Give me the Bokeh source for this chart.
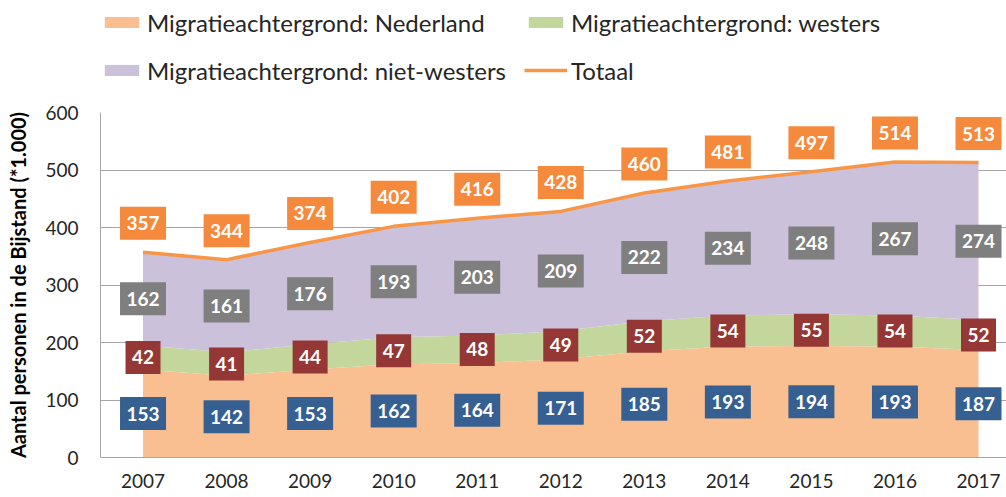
from bokeh.plotting import figure
from bokeh.layouts import column
from bokeh.models import Range1d, FixedTicker, Legend, LegendItem, ColumnDataSource
from bokeh.core.properties import value
from bokeh.embed import file_html
from bokeh.resources import INLINE

# ---- data ----
years = [2007, 2008, 2009, 2010, 2011, 2012, 2013, 2014, 2015, 2016, 2017]
nederland = [153, 142, 153, 162, 164, 171, 185, 193, 194, 193, 187]
westers = [42, 41, 44, 47, 48, 49, 52, 54, 55, 54, 52]
niet_westers = [162, 161, 176, 193, 203, 209, 222, 234, 248, 267, 274]
totaal = [357, 344, 374, 402, 416, 428, 460, 481, 497, 514, 513]
series_names = ["Migratieachtergrond: Nederland", "Migratieachtergrond: westers",
                "Migratieachtergrond: niet-westers", "Totaal"]
y_ticks = [0, 100, 200, 300, 400, 500, 600]
y_title = "Aantal personen in de Bijstand (*1.000)"

# ---- styles ----
C_NED = "#F9BF91"
C_WES = "#C3D69B"
C_NW = "#CCC1DA"
C_TOT = "#F79646"
B_NED = "#376092"
B_WES = "#953735"
B_NW = "#7F7F7F"
B_TOT = "#F68A3C"
GRID = "#A6A6A6"
FONT = "Lato"

# ---- main chart ----
p = figure(width=1006, height=397, output_backend="svg", toolbar_location=None,
           x_range=Range1d(2006.491, 2017.335), y_range=Range1d(0, 600),
           min_border_left=100, min_border_right=0, min_border_top=12,
           min_border_bottom=40)
p.outline_line_color = None
p.background_fill_color = "white"
p.border_fill_color = "white"

src = ColumnDataSource(dict(year=years, ned=nederland, wes=westers, nw=niet_westers,
                            tot=totaal))
p.varea_stack(stackers=["ned", "wes", "nw"], x="year", source=src,
              color=[C_NED, C_WES, C_NW])
p.line(x="year", y="tot", source=src, line_color=C_TOT, line_width=3.5)

# axes
p.xaxis.ticker = FixedTicker(ticks=years)
p.yaxis.ticker = FixedTicker(ticks=y_ticks)
for ax in (p.xaxis[0], p.yaxis[0]):
    ax.major_tick_out = 0
    ax.major_tick_in = 0
    ax.minor_tick_out = 0
    ax.minor_tick_in = 0
    ax.axis_line_color = GRID
    ax.axis_line_width = 1
    ax.major_label_text_font = FONT
    ax.major_label_text_font_size = "19px"
    ax.major_label_text_color = "#262626"
p.xaxis.major_label_standoff = 16
p.yaxis.major_label_standoff = 22
p.yaxis.axis_label = y_title
p.yaxis.axis_label_text_font = FONT
p.yaxis.axis_label_text_font_style = "bold"
p.yaxis.axis_label_text_font_size = "20px"
p.yaxis.axis_label_text_color = "#000000"
p.yaxis.axis_label_standoff = 12
p.xgrid.grid_line_color = None
p.ygrid.grid_line_color = GRID
p.ygrid.grid_line_width = 1
p.ygrid.level = "underlay"

# data labels
def add_labels(xs, ys, vals, box_color):
    txt = [str(v) for v in vals]
    w = [11 * len(t) + 13 for t in txt]
    s = ColumnDataSource(dict(x=xs, y=ys, t=txt, w=w))
    p.rect(x="x", y="y", width="w", height=33, width_units="screen",
           height_units="screen", source=s, fill_color=box_color, line_color=None)
    p.text(x="x", y="y", text="t", source=s, text_color="white",
           text_font=value(FONT), text_font_style="bold", text_font_size="19px",
           text_align="center", text_baseline="middle")

px_per_unit = 345 / 600.0
add_labels(years, [n / 2 for n in nederland], nederland, B_NED)
add_labels(years, [n + w / 2 for n, w in zip(nederland, westers)], westers, B_WES)
add_labels(years, [n + w + z / 2 for n, w, z in zip(nederland, westers, niet_westers)],
           niet_westers, B_NW)
add_labels(years, [t + 29 / px_per_unit for t in totaal], totaal, B_TOT)

# ---- legend strip (proxy glyphs lie outside its visible range) ----
lg = figure(width=1006, height=100, output_backend="svg", toolbar_location=None,
            x_axis_type=None, y_axis_type=None, min_border=0,
            x_range=Range1d(0, 1), y_range=Range1d(0, 1))
lg.outline_line_color = None
lg.xgrid.grid_line_color = None
lg.ygrid.grid_line_color = None
proxy = ColumnDataSource(dict(x=[5, 6], y1=[5, 5], y2=[6, 6]))
r_ned = lg.varea(x="x", y1="y1", y2="y2", source=proxy, color=C_NED)
r_wes = lg.varea(x="x", y1="y1", y2="y2", source=proxy, color=C_WES)
r_nw = lg.varea(x="x", y1="y1", y2="y2", source=proxy, color=C_NW)
r_tot = lg.line(x="x", y="y1", source=proxy, line_color=C_TOT, line_width=3.5)

legend = Legend(items=[
    LegendItem(label=series_names[0], renderers=[r_ned]),
    LegendItem(label=series_names[1], renderers=[r_wes]),
    LegendItem(label=series_names[2], renderers=[r_nw]),
    LegendItem(label=series_names[3], renderers=[r_tot]),
], location=(0, 15), orientation="horizontal", ncols=2,
    label_text_font=FONT, label_text_font_size="24px", label_text_color="#262626",
    glyph_width=43, glyph_height=14, label_height=30, label_width=357,
    label_standoff=4, spacing=18, padding=0, margin=0,
    border_line_alpha=0, background_fill_alpha=0)
lg.add_layout(legend, "center")

layout = column(lg, p, spacing=0)
open("out.html", "w").write(file_html(layout, INLINE))
